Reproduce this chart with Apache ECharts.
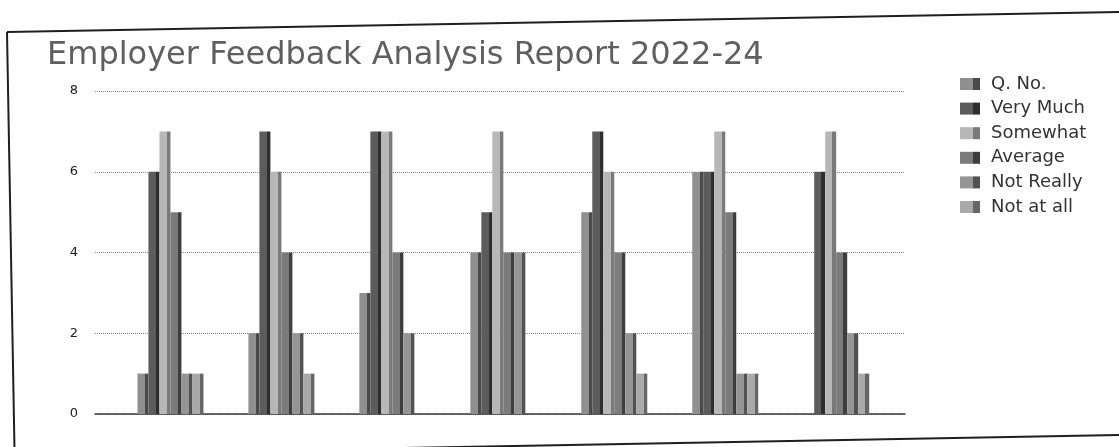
<!DOCTYPE html>
<html>
<head>
<meta charset="utf-8">
<script src="https://cdn.jsdelivr.net/npm/echarts@6/dist/echarts.min.js"></script>
<style>
  html, body { margin: 0; padding: 0; background: #ffffff; }
  #chart { width: 1119px; height: 447px; }
</style>
</head>
<body>
<div id="chart"></div>
<script>
// ---- data ----
const questions = [1, 2, 3, 4, 5, 6, 7];          // question positions on the x axis
const qNo       = [1, 2, 3, 4, 5, 6, null];       // "Q. No." column (last one absent)
const veryMuch  = [6, 7, 7, 5, 7, 6, 6];
const somewhat  = [7, 6, 7, 7, 6, 7, 7];
const average   = [5, 4, 4, 4, 4, 5, 4];
const notReally = [1, 2, 2, 4, 2, 1, 2];
const notAtAll  = [1, 1, 0, 0, 1, 1, 1];
const seriesNames = ['Q. No.', 'Very Much', 'Somewhat', 'Average', 'Not Really', 'Not at all'];
const yTicks = [0, 2, 4, 6, 8];
const titleText = 'Employer Feedback Analysis Report 2022-24';

// ---- styling ----
const FONT = 'DejaVu Sans';
const baseColors = ['#8f8f8f', '#5c5c5c', '#b7b7b7', '#7b7b7b', '#959595', '#a9a9a9'];
const edgeColors = ['#4a4a4a', '#2e2e2e', '#7a7a7a', '#3e3e3e', '#525252', '#666666'];

function fill(i) {
  return new echarts.graphic.LinearGradient(0, 0, 1, 0, [
    { offset: 0, color: baseColors[i] },
    { offset: 0.66, color: baseColors[i] },
    { offset: 0.66, color: edgeColors[i] },
    { offset: 1, color: edgeColors[i] }
  ]);
}

const valueSets = [qNo, veryMuch, somewhat, average, notReally, notAtAll];
const series = seriesNames.map((name, i) => ({
  name: name,
  type: 'bar',
  barWidth: 11,
  barGap: '0%',
  itemStyle: { color: fill(i) },
  emphasis: { disabled: true },
  data: questions.map((q, k) => [q, valueSets[i][k]])
}));

const chart = echarts.init(document.getElementById('chart'), null, { renderer: 'canvas' });
chart.setOption({
  animation: false,
  backgroundColor: '#ffffff',
  title: {
    text: titleText,
    left: 42,
    top: 35,
    textStyle: { fontFamily: FONT, fontSize: 32, fontWeight: 'normal', color: '#5f5f5f' }
  },
  legend: {
    orient: 'vertical',
    left: 955,
    top: 70,
    itemWidth: 20,
    itemHeight: 12,
    itemGap: 6.6,
    icon: 'rect',
    data: seriesNames,
    textStyle: { fontFamily: FONT, fontSize: 18, color: '#333333', lineHeight: 18, padding: [0, 0, 0, 6] }
  },
  grid: { left: 95, right: 214, top: 91, bottom: 33, containLabel: false },
  xAxis: {
    type: 'value',
    min: 0.32,
    max: 7.62,
    axisLine: { show: true, onZero: false, lineStyle: { color: '#3a3a3a', width: 1.5 } },
    axisTick: { show: false },
    axisLabel: { show: false },
    splitLine: { show: false }
  },
  yAxis: {
    type: 'value',
    min: yTicks[0],
    max: yTicks[yTicks.length - 1],
    interval: 2,
    axisLine: { show: false },
    axisTick: { show: false },
    axisLabel: { margin: 17, fontFamily: FONT, fontSize: 13, color: '#222222' },
    splitLine: { show: true, lineStyle: { color: '#8a8a8a', type: 'dotted', width: 1 } }
  },
  graphic: [{
    type: 'polyline',
    silent: true,
    shape: { points: [[7, 32], [1207, 10.4], [1214.6, 433.4], [14.6, 455], [7, 32]] },
    style: { stroke: '#1f1f1f', lineWidth: 2, fill: null }
  }],
  series: series
});
</script>
</body>
</html>
